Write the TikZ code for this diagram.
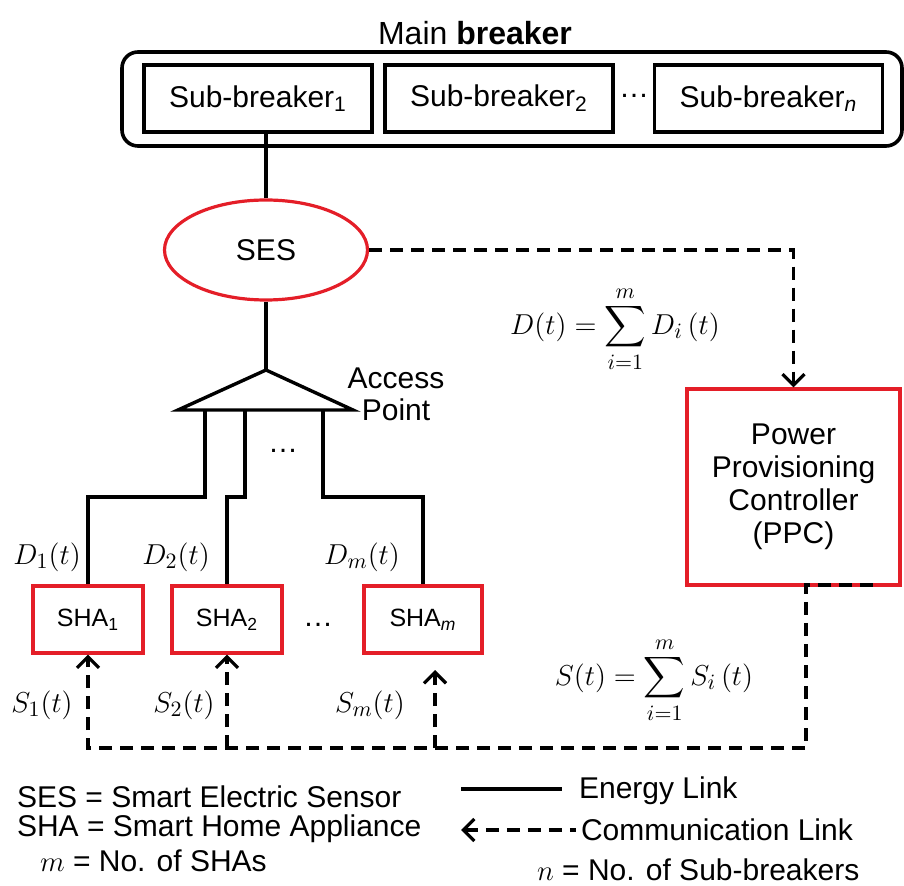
\documentclass[tikz,border=0pt]{standalone}
\usepackage{fontspec}
\setmainfont{Liberation Sans}
\usepackage{amsmath}
\usetikzlibrary{arrows.meta,shapes.geometric}

\begin{document}
\begin{tikzpicture}[x=0.5pt,y=-0.5pt,font=\fontsize{15}{18}\selectfont,
  energy/.style={line width=1.7pt},
  commlink/.style={line width=1.7pt,dash pattern=on 6.5pt off 4pt},
  commtip/.style={-{Straight Barb[length=5.5pt,width=11pt,line width=1.6pt]}},
  brkbox/.style={draw,line width=1.8pt,minimum width=114pt,minimum height=33.5pt},
  shabox/.style={draw=cRed,line width=1.6pt,minimum height=33.5pt,
    font=\fontsize{12.5}{15}\selectfont}]
  \definecolor{cRed}{RGB}{228,30,40}
  \useasboundingbox (0,0) rectangle (904,886);

  % main breaker with its sub-breakers
  \node (mainlbl) at (475,33) {\fontsize{16}{19}\selectfont Main \textbf{breaker}};
  \node[draw,line width=1.8pt,rounded corners=8pt,minimum width=390pt,
    minimum height=47pt] (mainbox) at (512,99) {};
  \node[brkbox] (sb1) at (258,98.5) {Sub-breaker\textsubscript{1}};
  \node[brkbox] (sb2) at (499,98.5) {Sub-breaker\textsubscript{2}};
  \node[brkbox] (sbn) at (768.5,98.5) {Sub-breaker\textsubscript{\textit{n}}};
  \node (sbdots) at (634,96) {\dots};

  % smart electric sensor
  \node[ellipse,draw=cRed,line width=1.6pt,minimum width=101.5pt,
    minimum height=50pt] (ses) at (266,250) {SES};
  \draw[energy] (ses.north) -- (ses.north |- sb1.south);

  % access point
  \coordinate (apTop) at (266,370);
  \coordinate (apL) at (178,410);
  \coordinate (apR) at (353,410);
  \coordinate (ap1) at (205,410);
  \coordinate (ap2) at (245,410);
  \coordinate (ap3) at (323,410);
  \draw[energy] (ses.south) -- (apTop);
  \draw[energy,line join=miter] (apL) -- (apTop) -- (apR) -- cycle;
  \node[align=center,font=\fontsize{15}{16}\selectfont] (aplbl) at (396,394)
    {Access\\Point};
  \node (apdots) at (283,451) {\dots};

  % smart home appliances
  \node[shabox,minimum width=55pt] (sha1) at (88,619.5) {SHA\textsubscript{1}};
  \node[shabox,minimum width=55pt] (sha2) at (227,619.5) {SHA\textsubscript{2}};
  \node[shabox,minimum width=59pt] (sham) at (423,619.5) {SHA\textsubscript{\textit{m}}};
  \node (shadots) at (318,625) {\dots};

  \draw[energy] (ap1) -- ++(0,87) -| (sha1.north);
  \draw[energy] (ap2) -- ++(0,87) -| (sha2.north);
  \draw[energy] (ap3) -- ++(0,87) -| (sham.north);

  \node (d1) at (47,557) {$D_1(t)$};
  \node (d2) at (176,557) {$D_2(t)$};
  \node (dm) at (362,557) {$D_m(t)$};

  % power provisioning controller
  \node[draw=cRed,line width=1.6pt,minimum width=106.5pt,minimum height=98pt,
    align=center,font=\fontsize{15}{16.5}\selectfont] (ppc) at (793.5,487)
    {Power\\Provisioning\\Controller\\(PPC)};
  \draw[commlink,commtip] (ses.east) -| (ppc.north);
  \node[inner sep=1pt] (dsum) at (615,329) {$\displaystyle D(t)=\sum_{i=1}^{m} D_i\,(t)$};

  % signals back to the appliances
  \coordinate (ppcOut) at (873,585);
  \coordinate (ppcTap) at (806,585);
  \coordinate (busR) at (806,748);
  \coordinate (shamIn) at (435,670);
  \draw[commlink,commtip] (ppcOut) -- (ppcTap) -- (busR) -| (sha1.south);
  \draw[commlink,commtip] (sha2.south |- busR) -- (sha2.south);
  \draw[commlink,commtip] (shamIn |- busR) -- (shamIn);
  \node[inner sep=1pt] (ssum) at (654,680) {$\displaystyle S(t)=\sum_{i=1}^{m} S_i\,(t)$};

  \node (s1) at (42,705) {$S_1(t)$};
  \node (s2) at (184,705) {$S_2(t)$};
  \node (sm) at (370,705) {$S_m(t)$};

  % legend
  \node[anchor=west] (lgses) at (10,797) {SES = Smart Electric Sensor};
  \node[anchor=west] (lgsha) at (10,829) {SHA = Smart Home Appliance};
  \node[anchor=west] (lgm) at (33,861) {$m$ = No. of SHAs};
  \coordinate (enA) at (461,789);
  \coordinate (enB) at (562,789);
  \draw[energy] (enA) -- (enB);
  \node[anchor=west] (lgen) at (572,791) {Energy Link};
  \coordinate (cmA) at (461,830);
  \coordinate (cmB) at (576,830);
  \draw[commlink,{Straight Barb[length=5.5pt,width=11pt,line width=1.6pt]}-] (cmA) -- (cmB);
  \node[anchor=west] (lgcm) at (574,830) {Communication Link};
  \node[anchor=west] (lgn) at (530,870) {$n$ = No. of Sub-breakers};
\end{tikzpicture}
\end{document}
